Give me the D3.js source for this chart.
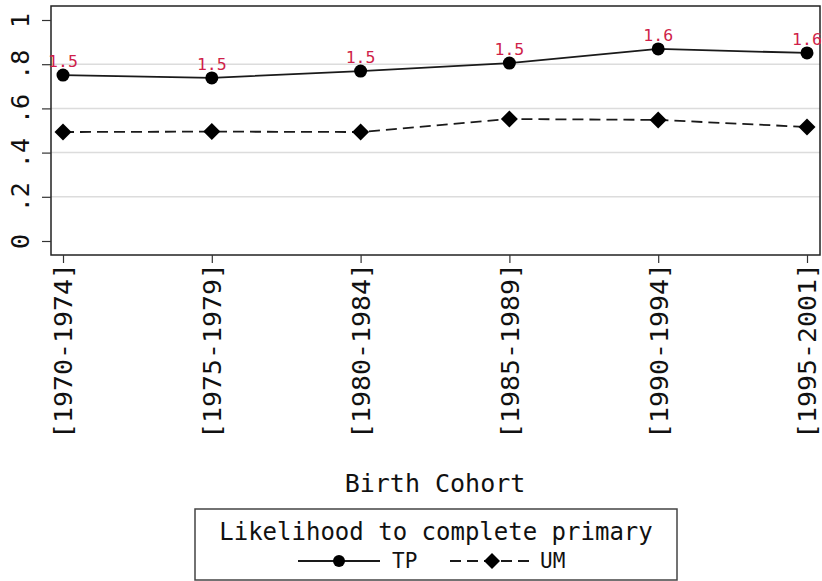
<!DOCTYPE html>
<html><head><meta charset="utf-8">
<script src="https://cdn.jsdelivr.net/npm/d3@7"></script>
<style>body{margin:0;background:#fff}svg{display:block}text{font-family:"DejaVu Sans Mono","Liberation Mono",monospace}</style>
</head><body><svg id="c" width="822" height="581"></svg>
<script>
const categories = ["[1970-1974]","[1975-1979]","[1980-1984]","[1985-1989]","[1990-1994]","[1995-2001]"];
const tpValues = [0.751, 0.738, 0.769, 0.805, 0.869, 0.851];
const umValues = [0.493, 0.495, 0.493, 0.552, 0.548, 0.516];
const tpLabels = ["1.5","1.5","1.5","1.5","1.6","1.6"];
const yTicks = [0, 0.2, 0.4, 0.6, 0.8, 1];
const yTickLabels = ["0",".2",".4",".6",".8","1"];
const seriesNames = ["TP","UM"];
const legendTitle = "Likelihood to complete primary";
const xTitle = "Birth Cohort";

const svg = d3.select("#c");
const frame = {l:51, r:820, t:6, b:255};
const x = d3.scalePoint().domain(categories).range([63, 807]);
const y = d3.scaleLinear().domain([0,1]).range([241, 20]);

// grid
svg.append("g").selectAll("line").data(yTicks.filter(d=>d>0&&d<1)).join("line")
  .attr("x1",frame.l).attr("x2",frame.r).attr("y1",d=>y(d)).attr("y2",d=>y(d))
  .attr("stroke","#dcdcdc").attr("stroke-width",1.5);

// frame
svg.append("rect").attr("x",frame.l).attr("y",frame.t).attr("width",frame.r-frame.l).attr("height",frame.b-frame.t)
  .attr("fill","none").attr("stroke","#222").attr("stroke-width",1.5);

// y axis
const yAxis = svg.append("g").attr("transform",`translate(${frame.l},0)`)
  .call(d3.axisLeft(y).tickValues(yTicks).tickSize(9).tickFormat((d,i)=>yTickLabels[i]));
yAxis.select(".domain").remove();
yAxis.selectAll(".tick line").attr("stroke","#333").attr("stroke-width",1.2);
yAxis.selectAll(".tick text").attr("font-size",25).attr("fill","#111")
  .attr("transform","rotate(-90)").attr("x",0).attr("y",-22).attr("dy","0")
  .attr("text-anchor","middle").attr("font-family","DejaVu Sans Mono");

// x axis
const xAxis = svg.append("g").attr("transform",`translate(0,${frame.b})`)
  .call(d3.axisBottom(x).tickSize(8));
xAxis.select(".domain").remove();
xAxis.selectAll(".tick line").attr("stroke","#333").attr("stroke-width",1.2);
xAxis.selectAll(".tick text").attr("font-size",25.5).attr("fill","#111")
  .attr("transform","rotate(-90)").attr("x",-8).attr("y",0).attr("dy","0.35em")
  .attr("text-anchor","end").attr("font-family","DejaVu Sans Mono")
  .attr("textLength",176).attr("lengthAdjust","spacingAndGlyphs");

svg.append("text").attr("x",435).attr("y",492).attr("text-anchor","middle")
  .attr("font-size",25).attr("fill","#111").text(xTitle);

// lines
const line = d3.line().x((d,i)=>x(categories[i])).y(d=>y(d));
svg.append("path").datum(tpValues).attr("d",line).attr("fill","none").attr("stroke","#1a1a1a").attr("stroke-width",1.8);
svg.append("path").datum(umValues).attr("d",line).attr("fill","none").attr("stroke","#1a1a1a").attr("stroke-width",1.8).attr("stroke-dasharray","11,6");

// markers
svg.append("g").selectAll("circle").data(tpValues).join("circle")
  .attr("cx",(d,i)=>x(categories[i])).attr("cy",d=>y(d)).attr("r",6.5).attr("fill","#000");
const diamond = s => `M0,${-s}L${s},0L0,${s}L${-s},0Z`;
svg.append("g").selectAll("path").data(umValues).join("path")
  .attr("d",diamond(8.5)).attr("transform",(d,i)=>`translate(${x(categories[i])},${y(d)})`).attr("fill","#000");

// labels
svg.append("g").selectAll("text").data(tpValues).join("text")
  .attr("x",(d,i)=>x(categories[i])).attr("y",d=>y(d)-8).attr("text-anchor","middle")
  .attr("font-size",16.5).attr("fill","#cf1f4a").text((d,i)=>tpLabels[i]);

// legend
const lg = svg.append("g");
lg.append("rect").attr("x",195).attr("y",509).attr("width",482).attr("height",71)
  .attr("fill","#fff").attr("stroke","#444").attr("stroke-width",1.5);
lg.append("text").attr("x",436).attr("y",540).attr("text-anchor","middle").attr("font-size",24).attr("fill","#111").text(legendTitle);
lg.append("line").attr("x1",298).attr("x2",380).attr("y1",561).attr("y2",561).attr("stroke","#1a1a1a").attr("stroke-width",1.8);
lg.append("circle").attr("cx",339).attr("cy",561).attr("r",6).attr("fill","#000");
lg.append("text").attr("x",392).attr("y",568).attr("font-size",21).attr("fill","#111").text(seriesNames[0]);
lg.append("line").attr("x1",450).attr("x2",533).attr("y1",561).attr("y2",561).attr("stroke","#1a1a1a").attr("stroke-width",1.8).attr("stroke-dasharray","11,6");
lg.append("path").attr("d",diamond(8)).attr("transform","translate(492,561)").attr("fill","#000");
lg.append("text").attr("x",540).attr("y",568).attr("font-size",21).attr("fill","#111").text(seriesNames[1]);
</script></body></html>
